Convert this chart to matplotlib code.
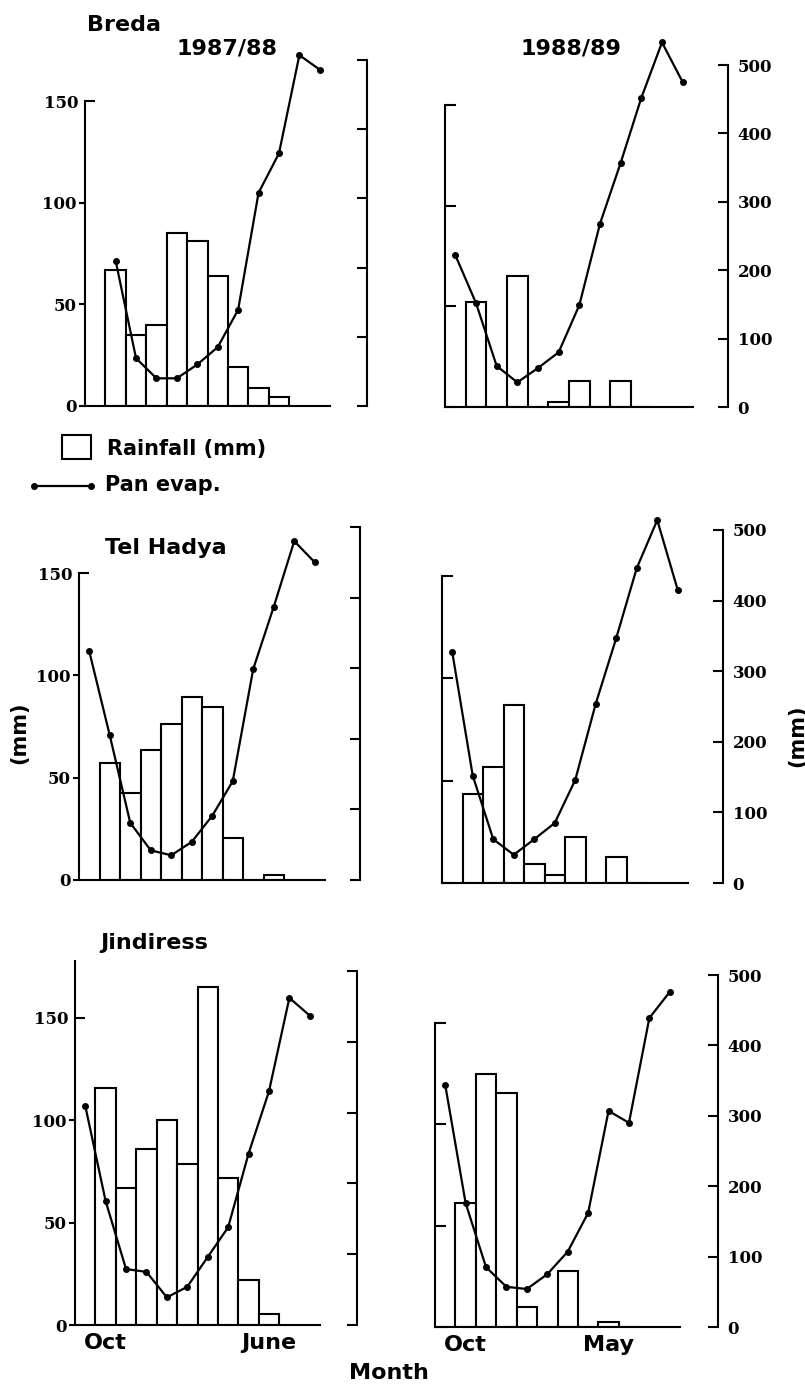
import numpy as np
import matplotlib
matplotlib.use('Agg')
import matplotlib.pyplot as plt
from matplotlib.ticker import FixedLocator, FixedFormatter
from matplotlib.patches import Rectangle
from matplotlib.lines import Line2D

# ---------------------------------------
# Data: rainfall (Oct..Jun) and pan evaporation (Sep..Aug), mm
# ---------------------------------------
months = np.arange(12)           # 0 = Sep ... 11 = Aug
rain_months = np.arange(1, 10)   # Oct ... Jun

breda_8788_rain = [67, 35, 40, 85, 81, 64, 19, 9, 4.5]
breda_8788_evap = [np.nan, 210, 69, 40, 40, 60, 85, 139, 308, 365, 507, 486]
breda_8889_rain = [52, 0, 65, 0, 2.5, 13, 0, 13, 0]
breda_8889_evap = [222, 152, 60, 36, 57, 80, 149, 268, 357, 452, 533, 475]

telhadya_8788_rain = [57, 42.5, 63.5, 76, 89.5, 84.5, 20.5, 0, 2.5]
telhadya_8788_evap = [324, 205, 81, 42, 35, 54, 91, 140, 299, 387, 480, 450]
telhadya_8889_rain = [43.5, 56.5, 87, 9.5, 4, 22.5, 0, 12.5, 0]
telhadya_8889_evap = [327, 152, 62, 40, 62, 85, 146, 254, 347, 446, 514, 415]

jindiress_8788_rain = [116, 67, 86, 100, 78.5, 165, 72, 22, 5.5]
jindiress_8788_evap = [310, 175, 79, 75, 39, 54, 96, 138, 242, 330, 462, 437]
jindiress_8889_rain = [61, 125, 115.5, 10, 0, 27.5, 0, 2.5, 0]
jindiress_8889_evap = [344, 176, 85, 57, 54, 75, 107, 162, 307, 290, 439, 476]

rain_ticks = [0, 50, 100, 150]
evap_ticks = [0, 100, 200, 300, 400, 500]

# ---------------------------------------
# Layout (pixels): left, right, y of 0, y of 150 (rain), y of 500 (evap), right spine x
# ---------------------------------------
W, H, DPI = 805, 1391, 100

panels = [
    dict(rain=breda_8788_rain, evap=breda_8788_evap, col=0, row=0,
         box=(85, 330, 406, 101, 60, 367), ltop=150),
    dict(rain=breda_8889_rain, evap=breda_8889_evap, col=1, row=0,
         box=(445, 693, 407, 105, 65, 728), ltop=150),
    dict(rain=telhadya_8788_rain, evap=telhadya_8788_evap, col=0, row=1,
         box=(79, 325, 880, 573, 527, 360), ltop=150),
    dict(rain=telhadya_8889_rain, evap=telhadya_8889_evap, col=1, row=1,
         box=(442, 688, 883, 576, 530, 723), ltop=150),
    dict(rain=jindiress_8788_rain, evap=jindiress_8788_evap, col=0, row=2,
         box=(75, 320, 1325, 1018, 971, 357), ltop=178),
    dict(rain=jindiress_8889_rain, evap=jindiress_8889_evap, col=1, row=2,
         box=(435, 680, 1327, 1023, 975, 718), ltop=150),
]

plt.rcParams['font.family'] = 'DejaVu Serif'
plt.rcParams['font.weight'] = 'bold'
SANS = 'DejaVu Sans'
LW = 1.5

fig = plt.figure(figsize=(W / DPI, H / DPI), dpi=DPI, facecolor='white')

for p in panels:
    left, right, y0, y150, y500, rsp = p['box']
    ax = fig.add_axes([left / W, 1 - y0 / H, (right - left) / W, (y0 - y500) / H])
    ax.set_xlim(-0.5, 11.5)
    ax.set_ylim(0, 150 * (y0 - y500) / (y0 - y150))

    ax.bar(rain_months, p['rain'], width=1.0, facecolor='white',
           edgecolor='black', lw=LW, zorder=2)

    for s in ['top', 'right']:
        ax.spines[s].set_visible(False)
    ax.spines['left'].set_bounds(0, p['ltop'])
    ax.spines['left'].set_linewidth(LW)
    ax.spines['bottom'].set_linewidth(LW)

    if p['col'] == 0:
        ax.yaxis.set_major_locator(FixedLocator(rain_ticks[:3]))
        ax.yaxis.set_minor_locator(FixedLocator(rain_ticks[3:]))
        ax.yaxis.set_minor_formatter(FixedFormatter(['150']))
        ax.tick_params(axis='y', which='major', direction='out', length=4.5,
                       width=LW, pad=1.5, labelsize=12)
        ax.tick_params(axis='y', which='minor', direction='in', length=7,
                       width=LW, pad=5, labelsize=12)
    else:
        ax.yaxis.set_major_locator(FixedLocator(rain_ticks))
        ax.tick_params(axis='y', direction='in', length=8, width=LW, labelleft=False)

    if p['row'] == 2:
        ax.set_xticks([1, 9] if p['col'] == 0 else [1, 8])
        ax.set_xticklabels(['Oct', 'June'] if p['col'] == 0 else ['Oct', 'May'],
                           fontfamily=SANS, fontsize=16)
        ax.tick_params(axis='x', length=0, pad=6)
    else:
        ax.set_xticks([])

    # pan evaporation on its own right-hand scale
    ax2 = ax.twinx()
    ax2.set_ylim(0, 500)
    ax2.plot(months, p['evap'], '-o', color='black', lw=1.6, ms=4, clip_on=False, zorder=3)
    for s in ['top', 'left', 'bottom']:
        ax2.spines[s].set_visible(False)
    ax2.spines['right'].set_position(('outward', (rsp - right) * 72 / DPI))
    ax2.spines['right'].set_bounds(0, 500)
    ax2.spines['right'].set_linewidth(LW)
    ax2.yaxis.set_major_locator(FixedLocator(evap_ticks))
    ax2.tick_params(axis='y', direction='in', length=7, width=LW, pad=7,
                    labelsize=12, labelright=(p['col'] == 1))

# --- titles and labels
def label(x, y, s, size=16, **kw):
    fig.text(x / W, 1 - y / H, s, ha='center', va='center', fontsize=size,
             fontfamily=SANS, fontweight='bold', **kw)

label(124, 25, 'Breda')
label(227, 48, '1987/88')
label(571, 48, '1988/89')
label(166, 548, 'Tel Hadya')
label(154, 943, 'Jindiress')
label(389, 1373, 'Month')
label(19, 733, '(mm)', size=15, rotation=90)
label(797, 736, '(mm)', size=15, rotation=90)

# --- legend
fig.add_artist(Rectangle((62 / W, 1 - 459 / H), 29 / W, 24 / H, transform=fig.transFigure,
                         facecolor='white', edgecolor='black', lw=LW))
fig.add_artist(Line2D([34 / W, 91 / W], [1 - 486 / H] * 2, transform=fig.transFigure,
                      color='black', lw=1.6, marker='o', ms=4))
fig.text(107 / W, 1 - 449 / H, 'Rainfall (mm)', ha='left', va='center', fontsize=15,
         fontfamily=SANS, fontweight='bold')
fig.text(105 / W, 1 - 485 / H, 'Pan evap.', ha='left', va='center', fontsize=15,
         fontfamily=SANS, fontweight='bold')

fig.savefig('out.png', dpi=DPI, facecolor='white')
